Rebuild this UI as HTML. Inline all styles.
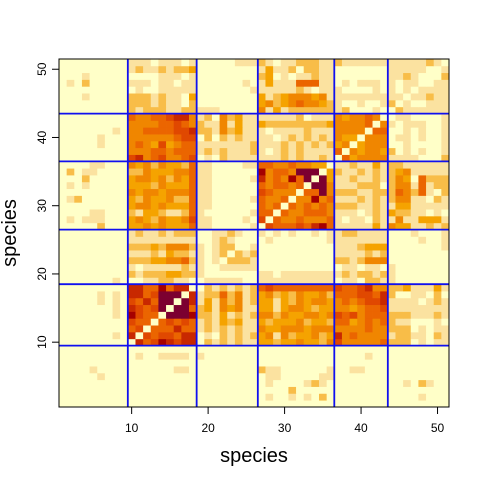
<!DOCTYPE html>
<html><head><meta charset="utf-8"><style>
html,body{margin:0;padding:0;background:#fff;}
svg text{font-family:"Liberation Sans",sans-serif;}
</style></head><body>
<svg id="chart" width="480" height="480" viewBox="0 0 480 480">
<g id="cells"></g>
<g id="lines"></g>
<rect x="59" y="59" width="390" height="348" fill="none" stroke="#000" stroke-width="1"/>
<g id="axes"></g>
<text x="254" y="462" font-size="20" text-anchor="middle">species</text>
<text x="0" y="0" font-size="20" text-anchor="middle" transform="translate(16,233) rotate(-90)">species</text>
</svg>
<script>
const species = 51;
const tickValues = [10, 20, 30, 40, 50];
const groupBoundaries = [9.5, 18.5, 26.5, 36.5, 43.5];
const palette = ["#FFFFC8","#FBE2A0","#F8BD48","#F5A300","#F08600","#EB6500","#E04800","#C82800","#A50000","#7C0030"];
const lowerRows = [
"0","00","000","0000","00000","000010","0000000","00000000","000000000",
"000000000"+"0",
"000000010"+"70",
"000000000"+"560",
"000000000"+"6550",
"000000010"+"86550",
"000000010"+"765690",
"000001010"+"6575990",
"000001010"+"77569990",
"000000000"+"775585770",
"000000010"+"001122110"+"0",
"000000000"+"212223322"+"10",
"000000000"+"101111121"+"100",
"000000000"+"222334452"+"1010",
"000000000"+"111213221"+"10120",
"000000000"+"222324442"+"101220",
"000000000"+"111111111"+"0012100",
"000000000"+"121121222"+"00112100",
"000002000"+"334343335"+"11000001"+"0",
"010111000"+"343243346"+"11000010"+"60",
"000011000"+"213321125"+"10000001"+"550",
"000000000"+"344343335"+"11000000"+"5450",
"012000000"+"324334225"+"11000001"+"54450",
"000000000"+"434434445"+"11000000"+"654440",
"010100000"+"333243335"+"11000000"+"5455450",
"000200000"+"344342435"+"11000001"+"74548590",
"020110000"+"224333445"+"11000000"+"845549990",
"000011000"+"434243325"+"11000011"+"5544544330",
"000000000"+"674564456"+"01021111"+"1112121121"+"0",
"000000000"+"444554555"+"12121112"+"1012121111"+"50",
"000001000"+"454363455"+"11111112"+"1112121212"+"340",
"000001000"+"444444566"+"02021211"+"1101212121"+"4330",
"000000010"+"445555667"+"22142311"+"1011112111"+"44440",
"000000000"+"444455654"+"21141311"+"3222222223"+"444450",
"000000000"+"544556774"+"12042311"+"1111120111"+"4344540",
"000000000"+"212221122"+"11100000"+"4131222222"+"1200010"+"0",
"000000000"+"222121102"+"00000000"+"3423454432"+"1001001"+"20",
"000100000"+"222121103"+"00000000"+"3123444341"+"1111111"+"110",
"000000000"+"010011111"+"00000001"+"1111121011"+"1000010"+"1010",
"010200000"+"111011011"+"00000010"+"1311155511"+"0101110"+"10110",
"000100000"+"000011101"+"00000000"+"2301011211"+"0000000"+"112100",
"000000000"+"121121223"+"00000000"+"1311202211"+"0000000"+"1111100",
"000000000"+"111011101"+"00000111"+"2101122211"+"2111111"+"11111210"
];
const NS = "http://www.w3.org/2000/svg";
const X0 = 59, X1 = 449, Y0 = 407, Y1 = 59;
const cw = (X1 - X0) / species, ch = (Y0 - Y1) / species;
function xs(v){ return X0 + (v - 0.5) * cw; }
function ys(v){ return Y0 - (v - 0.5) * ch; }
function val(i, j){
  const a = Math.max(i, j), b = Math.min(i, j);
  const r = lowerRows[a - 1] || "";
  return parseInt(r[b - 1] || "0", 10);
}
const cells = document.getElementById("cells");
for (let i = 1; i <= species; i++) {
  for (let j = 1; j <= species; j++) {
    const r = document.createElementNS(NS, "rect");
    r.setAttribute("x", (xs(j) - cw / 2).toFixed(2));
    r.setAttribute("y", (ys(i) - ch / 2).toFixed(2));
    r.setAttribute("width", (cw + 0.4).toFixed(2));
    r.setAttribute("height", (ch + 0.4).toFixed(2));
    r.setAttribute("fill", palette[val(i, j)]);
    
    
    cells.appendChild(r);
  }
}
const lines = document.getElementById("lines");
groupBoundaries.forEach(b => {
  const v = document.createElementNS(NS, "line");
  v.setAttribute("x1", xs(b)); v.setAttribute("x2", xs(b));
  v.setAttribute("y1", Y1); v.setAttribute("y2", Y0);
  v.setAttribute("stroke", "#1010F0"); v.setAttribute("stroke-width", "1.8");
  
  
  lines.appendChild(v);
  const h = document.createElementNS(NS, "line");
  h.setAttribute("x1", X0); h.setAttribute("x2", X1);
  h.setAttribute("y1", ys(b)); h.setAttribute("y2", ys(b));
  h.setAttribute("stroke", "#1010F0"); h.setAttribute("stroke-width", "1.8");
  
  
  lines.appendChild(h);
});
const axes = document.getElementById("axes");
tickValues.forEach(t => {
  const tx = document.createElementNS(NS, "line");
  tx.setAttribute("x1", xs(t)); tx.setAttribute("x2", xs(t));
  tx.setAttribute("y1", Y0); tx.setAttribute("y2", Y0 + 7);
  tx.setAttribute("stroke", "#000");
  
  
  axes.appendChild(tx);
  const lx = document.createElementNS(NS, "text");
  lx.setAttribute("x", xs(t)); lx.setAttribute("y", Y0 + 25);
  lx.setAttribute("font-size", "12"); lx.setAttribute("text-anchor", "middle");
  lx.textContent = t;
  
  
  axes.appendChild(lx);
  const ty = document.createElementNS(NS, "line");
  ty.setAttribute("x1", X0 - 7); ty.setAttribute("x2", X0);
  ty.setAttribute("y1", ys(t)); ty.setAttribute("y2", ys(t));
  ty.setAttribute("stroke", "#000");
  
  
  axes.appendChild(ty);
  const ly = document.createElementNS(NS, "text");
  ly.setAttribute("font-size", "12"); ly.setAttribute("text-anchor", "middle");
  ly.setAttribute("transform", "translate(" + (X0 - 13) + "," + ys(t) + ") rotate(-90)");
  ly.textContent = t;
  
  
  axes.appendChild(ly);
});
</script>
</body></html>
